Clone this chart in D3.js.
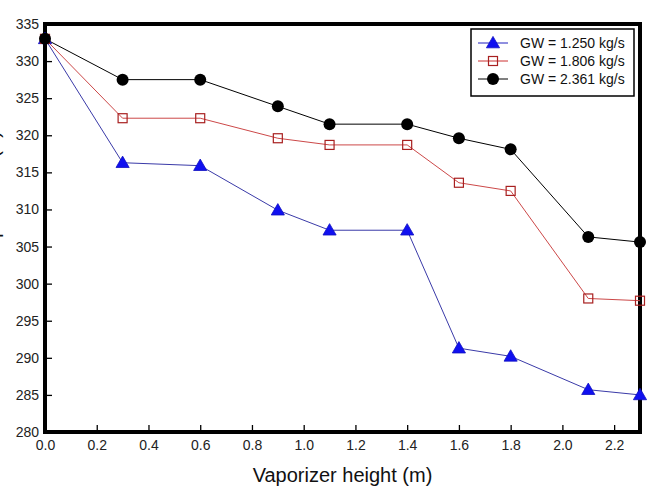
<!DOCTYPE html>
<html>
<head>
<meta charset="utf-8">
<script src="https://cdn.jsdelivr.net/npm/d3@7"></script>
<style>
  html, body { margin: 0; padding: 0; background: #fff; }
  svg { display: block; font-family: "Liberation Sans", Arial, sans-serif; }
</style>
</head>
<body>
<svg id="chart" width="655" height="494"></svg>
<script>
// ---- data ----
const heights = [0.0, 0.3, 0.6, 0.9, 1.1, 1.4, 1.6, 1.8, 2.1, 2.3];
const gw1250 = [333.0, 316.3, 315.9, 309.9, 307.2, 307.2, 291.3, 290.2, 285.7, 285.0];
const gw1806 = [333.0, 322.3, 322.3, 319.6, 318.7, 318.7, 313.6, 312.5, 298.0, 297.7];
const gw2361 = [333.0, 327.5, 327.5, 323.9, 321.5, 321.5, 319.6, 318.1, 306.3, 305.6];
const seriesNames = ["GW = 1.250 kg/s", "GW = 1.806 kg/s", "GW = 2.361 kg/s"];
const xTicks = [0.0, 0.2, 0.4, 0.6, 0.8, 1.0, 1.2, 1.4, 1.6, 1.8, 2.0, 2.2];
const yTicks = [280, 285, 290, 295, 300, 305, 310, 315, 320, 325, 330, 335];
const xTitle = "Vaporizer height (m)";
const yTitle = "Temperature (K)";

// ---- layout ----
const L = 45, R = 640, T = 24, B = 432;
const svg = d3.select("#chart");
const x = d3.scaleLinear().domain([0, 2.3]).range([L, R]);
const y = d3.scaleLinear().domain([280, 335]).range([B, T]);

// axes
const xAxis = d3.axisBottom(x).tickValues(xTicks).tickFormat(d3.format(".1f"))
  .tickSizeInner(-7).tickSizeOuter(0).tickPadding(8);
const yAxis = d3.axisLeft(y).tickValues(yTicks).tickFormat(d3.format("d"))
  .tickSizeInner(-7).tickSizeOuter(0).tickPadding(6);

const gx = svg.append("g").attr("transform", `translate(0,${B})`).call(xAxis);
const gy = svg.append("g").attr("transform", `translate(${L},0)`).call(yAxis);
[gx, gy].forEach(g => {
  g.select(".domain").remove();
  g.selectAll(".tick line").attr("stroke", "#000").attr("stroke-width", 1.3);
  g.selectAll(".tick text").attr("fill", "#222").style("font-size", "14px")
    .style("font-family", '"Liberation Sans", Arial, sans-serif');
});

// frame
svg.append("rect").attr("x", L).attr("y", T).attr("width", R - L).attr("height", B - T)
  .attr("fill", "none").attr("stroke", "#000").attr("stroke-width", 4);

// titles (y title is clipped by the left edge in the reference, only descenders show)
svg.append("text").attr("x", (L + R) / 2).attr("y", 482).attr("text-anchor", "middle")
  .attr("fill", "#111").style("font-size", "20px").text(xTitle);
svg.append("text").attr("transform", "translate(-1,131) rotate(-90)").attr("text-anchor", "end")
  .attr("fill", "#111").style("font-size", "20px").text(yTitle);

// series
const series = [
  { name: seriesNames[0], vals: gw1250, line: "#3a3aa8", marker: "tri" },
  { name: seriesNames[1], vals: gw1806, line: "#cc4848", marker: "sq" },
  { name: seriesNames[2], vals: gw2361, line: "#000000", marker: "circ" }
];

const lineGen = d3.line().x(d => x(d[0])).y(d => y(d[1]));

function drawMarker(g, type, cx, cy) {
  if (type === "tri") {
    g.append("path").attr("d", d3.symbol().type(d3.symbolTriangle).size(75)())
      .attr("transform", `translate(${cx},${cy + 1})`)
      .attr("fill", "#1010f0").attr("stroke", "#1010c0").attr("stroke-width", 0.8);
  } else if (type === "sq") {
    g.append("rect").attr("x", cx - 4.5).attr("y", cy - 4.5).attr("width", 9).attr("height", 9)
      .attr("fill", "#fff").attr("fill-opacity", 0).attr("stroke", "#a82020").attr("stroke-width", 1.2);
  } else {
    g.append("circle").attr("cx", cx).attr("cy", cy).attr("r", 6).attr("fill", "#000");
  }
}

series.forEach(s => {
  const pts = heights.map((h, i) => [h, s.vals[i]]);
  svg.append("path").attr("d", lineGen(pts)).attr("fill", "none")
    .attr("stroke", s.line).attr("stroke-width", 1);
});
series.forEach(s => {
  const g = svg.append("g");
  heights.forEach((h, i) => drawMarker(g, s.marker, x(h), y(s.vals[i])));
});

// legend
const lg = svg.append("g");
lg.append("rect").attr("x", 471).attr("y", 29).attr("width", 163).attr("height", 67)
  .attr("fill", "#fff").attr("stroke", "#000").attr("stroke-width", 1.5);
const legendLine = ["#2020c0", "#cc3030", "#000"];
series.forEach((s, i) => {
  const cy = 43 + i * 18;
  lg.append("line").attr("x1", 478).attr("x2", 508).attr("y1", cy).attr("y2", cy)
    .attr("stroke", legendLine[i]).attr("stroke-width", 1);
  drawMarker(lg, s.marker, 493, cy);
  lg.append("text").attr("x", 520).attr("y", cy + 5).attr("fill", "#111")
    .style("font-size", "14px").text(s.name);
});
</script>
</body>
</html>
